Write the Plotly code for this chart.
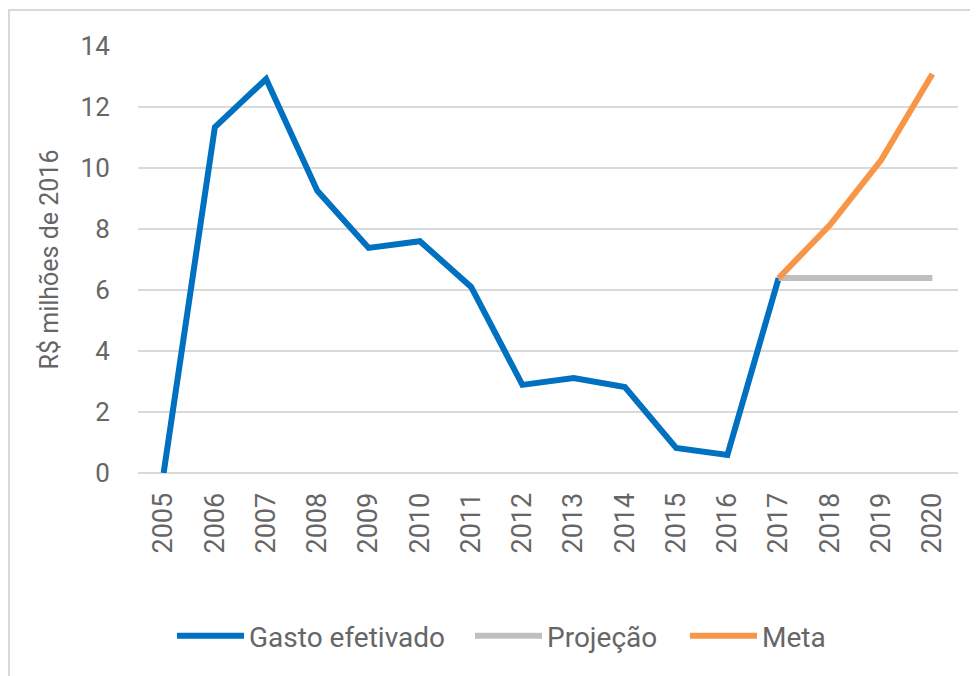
import plotly.graph_objects as go

years = [str(y) for y in range(2005, 2021)]
gasto_years = years[:13]
gasto = [0, 11.34, 12.92, 9.25, 7.38, 7.6, 6.1, 2.89, 3.11, 2.82, 0.82, 0.59, 6.39]
proj_years = years[12:]
projecao = [6.39, 6.39, 6.39, 6.39]
meta_years = years[12:]
meta = [6.39, 8.13, 10.26, 13.08]
y_ticks = [0, 2, 4, 6, 8, 10, 12, 14]

FONT = "Roboto, sans-serif"
TXT = "#666666"

W, H = 970, 668
L, R, T, B = 130, 20, 38, 203
PW, PH = W - L - R, H - T - B
OFF = 8  # page offset of the figure


def px_x(px):
    return (px - OFF - L) / PW


def px_y(py):
    return (T + PH - (py - OFF)) / PH


fig = go.Figure()
fig.add_trace(go.Scatter(x=gasto_years, y=gasto, mode="lines", name="Gasto efetivado",
                         line=dict(color="#0070c0", width=6), legend="legend"))
fig.add_trace(go.Scatter(x=proj_years, y=projecao, mode="lines", name="Projeção",
                         line=dict(color="#bfbfbf", width=6), legend="legend2"))
fig.add_trace(go.Scatter(x=meta_years, y=meta, mode="lines", name="Meta",
                         line=dict(color="#f79646", width=6), legend="legend3"))

leg_common = dict(orientation="h", yanchor="middle", xanchor="left",
                  font=dict(size=28, color=TXT), itemwidth=67,
                  bgcolor="rgba(0,0,0,0)", borderwidth=0)

fig.update_layout(
    width=W, height=H,
    margin=dict(l=L, r=R, t=T, b=B),
    paper_bgcolor="white", plot_bgcolor="white",
    font=dict(family=FONT, color=TXT, size=24),
    showlegend=True,
    legend=dict(x=px_x(172), y=px_y(636), **leg_common),
    legend2=dict(x=px_x(470), y=px_y(636), **leg_common),
    legend3=dict(x=px_x(685), y=px_y(636), **leg_common),
    xaxis=dict(type="category", categoryorder="array", categoryarray=years,
               range=[-0.5, 15.5], tickangle=-90, showgrid=False, zeroline=False,
               showline=False, ticks="outside", ticklen=8, tickcolor="rgba(0,0,0,0)",
               tickfont=dict(size=27, color=TXT)),
    yaxis=dict(range=[0, 14], tickvals=y_ticks, showgrid=True, gridcolor="#d9d9d9",
               gridwidth=2, zeroline=True, zerolinecolor="#d9d9d9", zerolinewidth=2,
               showline=False, ticks="outside", ticklen=22, tickcolor="rgba(0,0,0,0)",
               tickfont=dict(size=26, color=TXT),
               title=dict(text="R$ milhões de 2016", font=dict(size=25, color=TXT), standoff=14)),
    shapes=[dict(type="rect", xref="paper", yref="paper",
                 x0=px_x(9), x1=px_x(1000),
                 y0=px_y(700), y1=px_y(10),
                 line=dict(color="#d9d9d9", width=2), fillcolor="rgba(0,0,0,0)", layer="below")],
)

fig.write_html("out.html")
